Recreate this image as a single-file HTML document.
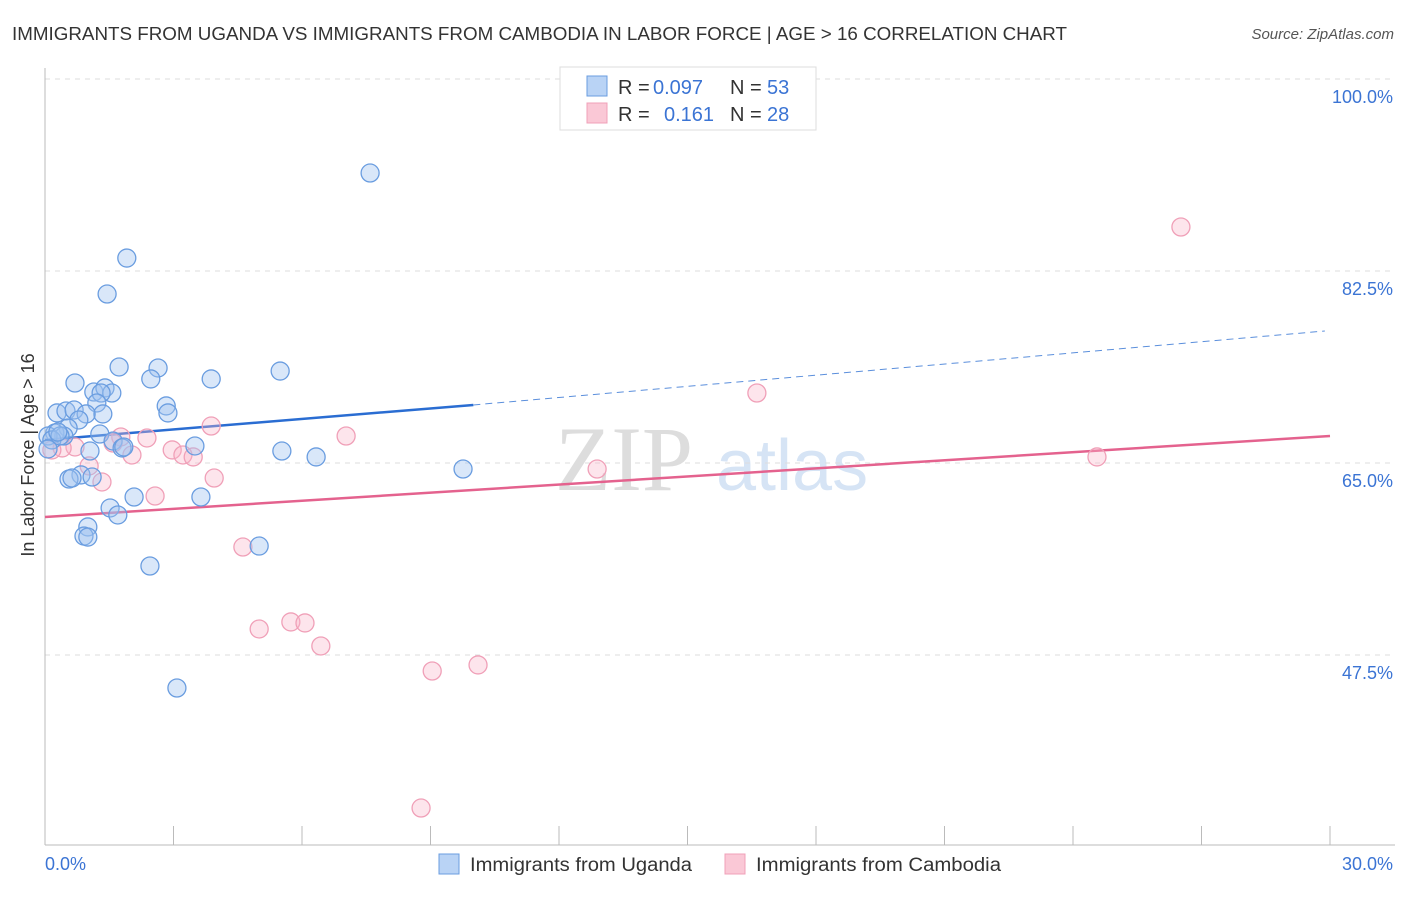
<!DOCTYPE html>
<html><head><meta charset="utf-8"><style>
body{margin:0;background:#fff;font-family:"Liberation Sans",sans-serif;}
</style></head><body>
<svg width="1406" height="892" xmlns="http://www.w3.org/2000/svg" font-family="Liberation Sans, sans-serif">
<text x="12" y="40" font-size="18" fill="#333" textLength="1055" lengthAdjust="spacingAndGlyphs">IMMIGRANTS FROM UGANDA VS IMMIGRANTS FROM CAMBODIA IN LABOR FORCE | AGE &gt; 16 CORRELATION CHART</text>
<text x="1394" y="39" font-size="15" fill="#555" font-style="italic" text-anchor="end">Source: ZipAtlas.com</text>
<g>
<text x="555" y="490" font-size="92" fill="#ddd" font-family="Liberation Serif, serif">ZIP</text>
<text x="716" y="490" font-size="72" fill="#d6e4f5">atlas</text>
</g>
<g id="grid"></g>
<g id="axes"></g>
<g id="trend"></g>
<g id="points"></g>
<text transform="translate(34,455) rotate(-90)" font-size="18" fill="#333" text-anchor="middle">In Labor Force | Age &gt; 16</text>
<g>
<rect x="560" y="67" width="256" height="63" fill="#fff" stroke="#ddd"/>
<rect x="587" y="76" width="20" height="20" fill="#b9d3f5" stroke="#6a9de0"/>
<text x="618" y="94" font-size="20" fill="#333">R =</text>
<text x="653" y="94" font-size="20" fill="#3b74d4">0.097</text>
<text x="730" y="94" font-size="20" fill="#333">N =</text>
<text x="767" y="94" font-size="20" fill="#3b74d4">53</text>
<rect x="587" y="103" width="20" height="20" fill="#fac8d6" stroke="#f0a0b8"/>
<text x="618" y="121" font-size="20" fill="#333">R =</text>
<text x="664" y="121" font-size="20" fill="#3b74d4">0.161</text>
<text x="730" y="121" font-size="20" fill="#333">N =</text>
<text x="767" y="121" font-size="20" fill="#3b74d4">28</text>
</g>
<g>
<rect x="439" y="854" width="20" height="20" fill="#b9d3f5" stroke="#6a9de0"/>
<text x="470" y="871" font-size="19" fill="#333" textLength="222" lengthAdjust="spacingAndGlyphs">Immigrants from Uganda</text>
<rect x="725" y="854" width="20" height="20" fill="#fac8d6" stroke="#f0a0b8"/>
<text x="756" y="871" font-size="19" fill="#333" textLength="245" lengthAdjust="spacingAndGlyphs">Immigrants from Cambodia</text>
</g>
<text x="45" y="870" font-size="18" fill="#3b74d4">0.0%</text>
<text x="1393" y="870" font-size="18" fill="#3b74d4" text-anchor="end">30.0%</text>
</svg>
<script>
const yTicks=[100,82.5,65,47.5];
const yTickLabels=["100.0%","82.5%","65.0%","47.5%"];
const ugandaX=[7.59,1.91,1.45,1.73,2.64,2.47,3.88,5.49,0.70,1.14,1.40,1.56,1.31,1.21,2.83,2.87,1.35,0.28,0.49,0.68,0.96,0.79,0.54,0.23,0.44,0.07,0.16,1.28,1.59,1.80,3.50,5.53,6.33,9.76,1.05,0.07,0.84,0.56,1.10,2.08,3.64,1.52,1.70,1.00,0.91,1.00,5.00,2.45,3.08,0.35,0.30,1.84,0.63];
const ugandaY=[91.43,83.68,80.40,73.75,73.66,72.66,72.66,73.38,72.29,71.47,71.84,71.38,71.38,70.47,70.20,69.56,69.47,69.56,69.74,69.83,69.47,68.92,68.19,67.73,67.46,67.46,67.10,67.64,67.00,66.37,66.55,66.09,65.55,64.45,66.09,66.28,63.91,63.54,63.72,61.90,61.90,60.90,60.26,59.17,58.34,58.25,57.43,55.61,44.49,67.46,67.82,66.46,63.63];
const cambodiaX=[26.52,16.62,3.88,7.03,1.77,2.38,1.59,0.70,0.40,0.16,2.97,3.22,3.46,2.03,1.03,3.95,1.33,2.57,12.89,24.56,4.62,5.00,5.74,6.07,6.44,9.04,10.11,8.78];
const cambodiaY=[86.51,71.38,68.37,67.46,67.37,67.28,66.82,66.46,66.37,66.19,66.19,65.73,65.55,65.73,64.73,63.63,63.27,61.99,64.45,65.55,57.34,49.87,50.51,50.42,48.32,46.04,46.59,33.55];
const ugandaTrend=[[0,67.10],[10,70.29],[29.88,77.03]];
const cambodiaTrend=[[0,60.08],[30,67.46]];
const xTicks=[0,3,6,9,12,15,18,21,24,27,30];
const NS="http://www.w3.org/2000/svg";
const X=v=>45+v*42.833, Y=v=>79+(100-v)*10.971;
function mk(t,a,p){const e=document.createElementNS(NS,t);for(const k in a)e.setAttribute(k,a[k]);p.appendChild(e);return e;}
const grid=document.getElementById('grid');
yTicks.forEach((t,i)=>{
 const l=mk('line',{x1:45,x2:1395,y1:Y(t),y2:Y(t),stroke:'#ddd','stroke-dasharray':'5,5'},grid);
 
 
 const tx=mk('text',{x:1393,y:Y(t)+24,'font-size':18,fill:'#3b74d4','text-anchor':'end'},grid);
 tx.textContent=yTickLabels[i];
 
 
});
const ax=document.getElementById('axes');
const ya=mk('line',{x1:45,x2:45,y1:68,y2:845,stroke:'#bbb'},ax);


const xa=mk('line',{x1:45,x2:1395,y1:845,y2:845,stroke:'#bbb'},ax);


xTicks.forEach(t=>{const l=mk('line',{x1:X(t),x2:X(t),y1:826,y2:845,stroke:'#bbb'},ax);
 
 });
const tr=document.getElementById('trend');
const b1=mk('line',{x1:X(ugandaTrend[0][0]),y1:Y(ugandaTrend[0][1]),x2:X(ugandaTrend[1][0]),y2:Y(ugandaTrend[1][1]),stroke:'#2a6dd2','stroke-width':2.5},tr);


const b2=mk('line',{x1:X(ugandaTrend[1][0]),y1:Y(ugandaTrend[1][1]),x2:X(ugandaTrend[2][0]),y2:Y(ugandaTrend[2][1]),stroke:'#5b8fdc','stroke-width':1,'stroke-dasharray':'7,5'},tr);


const p1=mk('line',{x1:X(cambodiaTrend[0][0]),y1:Y(cambodiaTrend[0][1]),x2:X(cambodiaTrend[1][0]),y2:Y(cambodiaTrend[1][1]),stroke:'#e4628e','stroke-width':2.5},tr);


const pts=document.getElementById('points');
cambodiaX.forEach((x,i)=>{const c=mk('circle',{cx:X(x),cy:Y(cambodiaY[i]),r:9,fill:'rgba(248,180,200,0.35)',stroke:'#f0a0b8','stroke-width':1.3},pts);
 
 });
ugandaX.forEach((x,i)=>{const c=mk('circle',{cx:X(x),cy:Y(ugandaY[i]),r:9,fill:'rgba(160,196,240,0.4)',stroke:'#6a9de0','stroke-width':1.3},pts);
 
 });
</script>
</body></html>
